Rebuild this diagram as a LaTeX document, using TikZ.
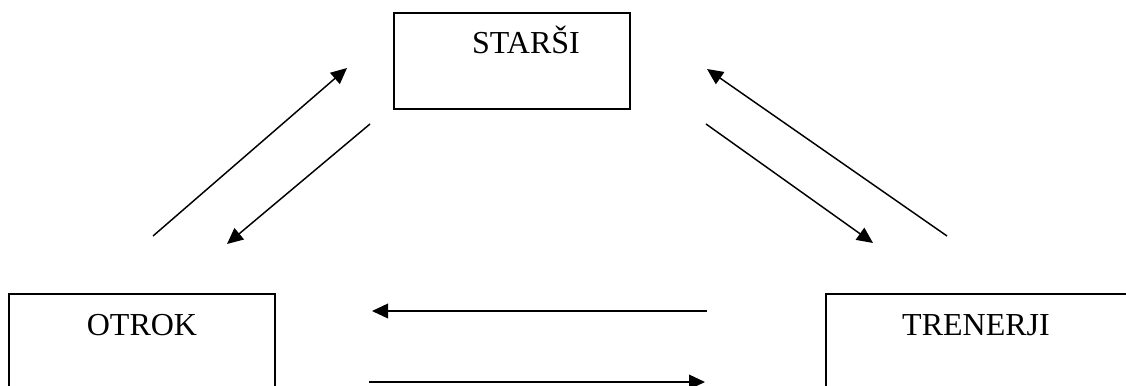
\documentclass[tikz,border=0pt]{standalone}
\usepackage{fontspec}
\setmainfont{Liberation Serif}
\usetikzlibrary{arrows.meta}
\tikzset{
  box/.style={draw, line width=1.5pt, inner sep=0pt, anchor=north,
    text height=30.75pt, font=\fontsize{24}{28}\selectfont},
  arr/.style={-{Triangle[length=12pt,width=11pt]}, line width=1.1pt}
}

\begin{document}
\begin{tikzpicture}[x=0.75pt,y=-0.75pt]
  \useasboundingbox (0,0) rectangle (1126,385);
  \clip (0,0) rectangle (1126,385);
  % boxes
  \node[box, minimum width=177pt, text depth=41.25pt] (starsi) at (512,12) {\hspace*{21pt}STARŠI};
  \node[box, minimum width=199.5pt, text depth=57pt] (otrok) at (142,293) {OTROK};
  \node[box, minimum width=235.5pt, text depth=57pt] (trenerji) at (983,293) {TRENERJI\hspace*{10.5pt}};
  % end points of the arrows
  \coordinate (o1) at (153,236);
  \coordinate (s1) at (347,68);
  \coordinate (s2) at (370,124);
  \coordinate (o2) at (227,244);
  \coordinate (t1) at (947,236);
  \coordinate (s3) at (707,69);
  \coordinate (s4) at (706,124);
  \coordinate (t2) at (873,243);
  \coordinate (t3) at (707,311);
  \coordinate (o3) at (372,311);
  \coordinate (o4) at (369,382);
  \coordinate (t4) at (705,382);
  % arrows
  \draw[arr] (o1) -- (s1);
  \draw[arr] (s2) -- (o2);
  \draw[arr] (t1) -- (s3);
  \draw[arr] (s4) -- (t2);
  \draw[arr] (t3) -- (o3);
  \draw[arr] (o4) -- (t4);
\end{tikzpicture}
\end{document}
